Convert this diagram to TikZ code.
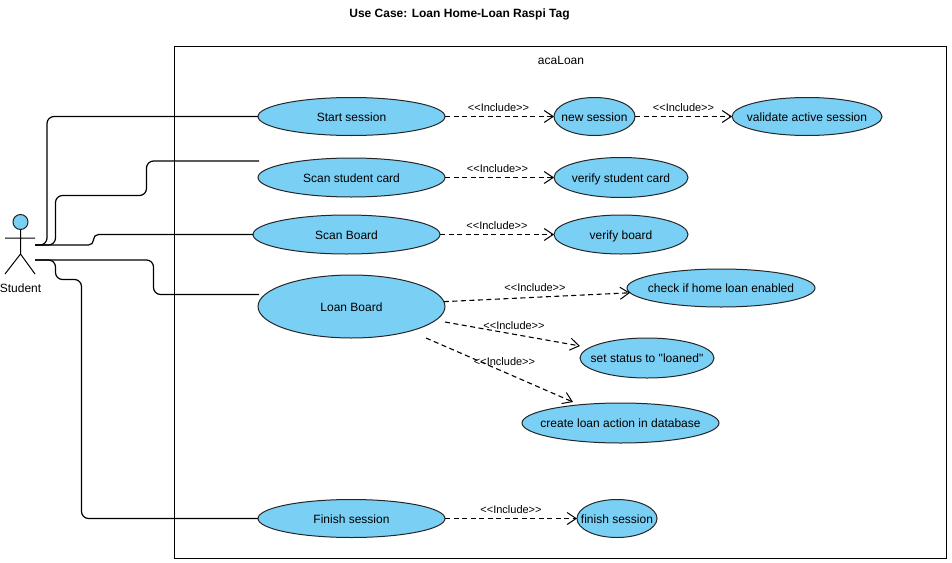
\documentclass[tikz,border=0pt]{standalone}
\usepackage{fontspec}
\setmainfont{Liberation Sans}[Ligatures=TeXOff]
\usetikzlibrary{shapes.geometric,arrows.meta}

\definecolor{casefill}{RGB}{122,207,245}
\newcommand{\casetext}[1]{\makebox[0pt]{\raisebox{-4.6pt}[0pt][0pt]{#1}}}
\tikzset{
	usecase/.style={ellipse,draw=black!85,fill=casefill,line width=1pt,inner sep=0pt,outer sep=0pt,font=\fontsize{12}{14}\selectfont},
	assoc/.style={line width=1.2pt,rounded corners=7pt},
	include/.style={dashed,dash pattern=on 5pt off 3.5pt,line width=1.1pt,-{Straight Barb[length=9pt,width=12pt,line width=1pt]}},
	inclabel/.style={font=\fontsize{11}{13}\selectfont,inner sep=0pt},
}

\begin{document}
\begin{tikzpicture}[x=1pt,y=-1pt]
	\useasboundingbox (0,0) rectangle (952,562);
	\node[font=\bfseries\fontsize{12}{14}\selectfont] (title) at (459.5,14) {Use Case: Loan Home-Loan Raspi Tag};
	\draw[line width=1pt] (174.5,46.5) rectangle (946,558);
	\node[font=\fontsize{12}{14}\selectfont] (system) at (561,60) {acaLoan};
	
	% actor
	\node[circle,draw=black!85,fill=casefill,line width=1pt,minimum size=15pt,inner sep=0pt,outer sep=0pt] (head) at (20.5,222) {};
	\coordinate (hip) at (20.5,254);
	\coordinate (armL) at (5,238);
	\coordinate (armR) at (35,238);
	\coordinate (legL) at (5,274);
	\coordinate (legR) at (35,274);
	\draw[line width=1pt] (head)--(hip) (armL)--(armR) (legL)--(hip)--(legR);
	\node[font=\fontsize{12}{14}\selectfont] (student) at (20.5,288) {Student};
	\coordinate (handA) at (35,245);
	\coordinate (handB) at (35,260);
	
	% use cases
	\node[usecase,minimum width=187pt,minimum height=38pt] (start) at (351.5,116.5) {\casetext{Start session}};
	\node[usecase,minimum width=187pt,minimum height=39pt] (scan) at (351.5,177.5) {\casetext{Scan student card}};
	\node[usecase,minimum width=187pt,minimum height=39pt] (board) at (346.5,234.5) {\casetext{Scan Board}};
	\node[usecase,minimum width=187pt,minimum height=63pt] (loan) at (351.5,306.5) {\casetext{Loan Board}};
	\node[usecase,minimum width=187pt,minimum height=38pt] (finish) at (351.5,518.5) {\casetext{Finish session}};
	\node[usecase,minimum width=81pt,minimum height=38pt] (new) at (594.5,116.5) {\casetext{new session}};
	\node[usecase,minimum width=150pt,minimum height=38pt] (validate) at (807,116.5) {\casetext{validate active session}};
	\node[usecase,minimum width=134pt,minimum height=40pt] (verifycard) at (621,177.5) {\casetext{verify student card}};
	\node[usecase,minimum width=134pt,minimum height=39pt] (verifyboard) at (621,234.5) {\casetext{verify board}};
	\node[usecase,minimum width=188pt,minimum height=38pt] (check) at (721,288) {\casetext{check if home loan enabled}};
	\node[usecase,minimum width=134pt,minimum height=40pt] (status) at (647,358) {\casetext{set status to "loaned"}};
	\node[usecase,minimum width=197pt,minimum height=40pt] (create) at (620.5,423) {\casetext{create loan action in database}};
	\node[usecase,minimum width=80pt,minimum height=38pt] (end) at (617,518.5) {\casetext{finish session}};
	
	% student links
	\coordinate (scanEnd) at (259,161);
	\coordinate (loanEnd) at (259,294.5);
	\draw[assoc] (handA)-|(47,116.5)--(start.west);
	\draw[assoc] (handA)-|(55.5,195.5)-|(146.5,161)--(scanEnd);
	\draw[assoc,rounded corners=5pt] (handA)-|(93.5,234.5)--(board.west);
	\draw[assoc] (handB)-|(153.5,294.5)--(loanEnd);
	\draw[assoc] (handB)-|(55.5,279.5)-|(81.5,518.5)--(finish.west);
	
	% includes
	\coordinate (loanB) at (445,322);
	\coordinate (loanC) at (426,338);
	\coordinate (statusEnd) at (580,346);
	\coordinate (createEnd) at (573,402);
	\draw[include] (start)--(new);
	\draw[include] (new)--(validate);
	\draw[include] (scan)--(verifycard);
	\draw[include] (board)--(verifyboard);
	\draw[include] (loan.3)--(check.183);
	\draw[include] (loanB)--(statusEnd);
	\draw[include] (loanC)--(createEnd);
	\draw[include] (finish)--(end);
	
	\node[inclabel] (incA) at (498.5,107.5) {<<Include>>};
	\node[inclabel] (incB) at (683.5,107.5) {<<Include>>};
	\node[inclabel] (incC) at (497.5,168.5) {<<Include>>};
	\node[inclabel] (incD) at (497,225.5) {<<Include>>};
	\node[inclabel] (incE) at (535,287.5) {<<Include>>};
	\node[inclabel] (incF) at (514,325.5) {<<Include>>};
	\node[inclabel] (incG) at (504.5,361.5) {<<Include>>};
	\node[inclabel] (incH) at (511,509.5) {<<Include>>};
\end{tikzpicture}
\end{document}
